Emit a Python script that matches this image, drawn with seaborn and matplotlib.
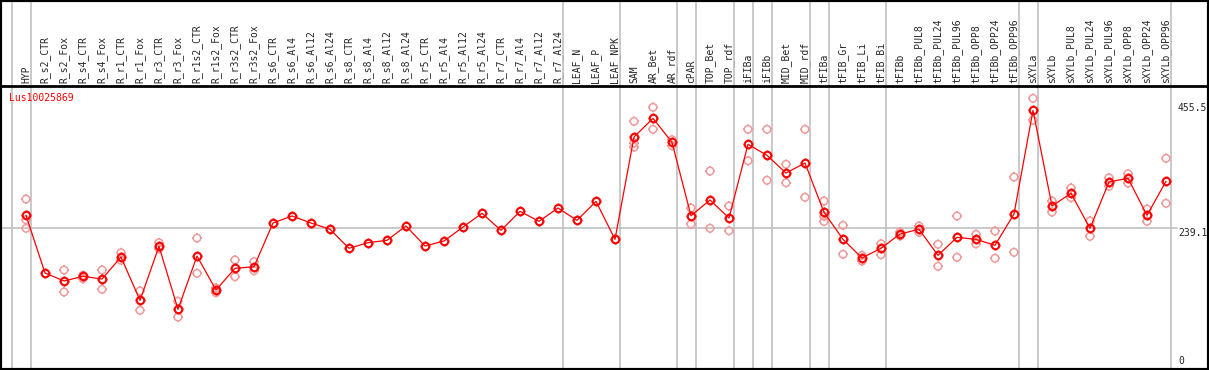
import numpy as np
import pandas as pd
import seaborn as sns
import matplotlib.pyplot as plt
from matplotlib.path import Path

# ---- data ----
labels = ["HYP", "R_s2_CTR", "R_s2_Fox", "R_s4_CTR", "R_s4_Fox", "R_r1_CTR", "R_r1_Fox",
          "R_r3_CTR", "R_r3_Fox", "R_r1s2_CTR", "R_r1s2_Fox", "R_r3s2_CTR", "R_r3s2_Fox",
          "R_s6_CTR", "R_s6_Al4", "R_s6_Al12", "R_s6_Al24", "R_s8_CTR", "R_s8_Al4",
          "R_s8_Al12", "R_s8_Al24", "R_r5_CTR", "R_r5_Al4", "R_r5_Al12", "R_r5_Al24",
          "R_r7_CTR", "R_r7_Al4", "R_r7_Al12", "R_r7_Al24", "LEAF_N", "LEAF_P", "LEAF_NPK",
          "SAM", "AR_Bet", "AR_rdf", "cPAR", "TOP_Bet", "TOP_rdf", "iFIBa", "iFIBb",
          "MID_Bet", "MID_rdf", "tFIBa", "tFIB_Gr", "tFIB_Li", "tFIB_Bi", "tFIBb",
          "tFIBb_PUL8", "tFIBb_PUL24", "tFIBb_PUL96", "tFIBb_OPP8", "tFIBb_OPP24",
          "tFIBb_OPP96", "sXYLa", "sXYLb", "sXYLb_PUL8", "sXYLb_PUL24", "sXYLb_PUL96",
          "sXYLb_OPP8", "sXYLb_OPP24", "sXYLb_OPP96"]

means = [261.6, 161.7, 147.9, 156.0, 151.3, 189.4, 114.4, 207.9, 98.9, 191.1, 132.3,
         169.8, 172.6, 248.3, 260.4, 248.3, 237.4, 204.5, 214.2, 218.3, 243.1, 208.4,
         217.1, 241.3, 265.1, 235.6, 268.5, 251.2, 274.2, 252.9, 285.8, 220.0, 397.2,
         429.5, 388.0, 260.9, 288.1, 256.9, 384.5, 365.5, 334.8, 352.1, 266.8, 220.0,
         187.7, 204.5, 229.2, 237.4, 192.3, 223.5, 220.0, 209.7, 263.9, 443.4, 277.7,
         299.7, 239.1, 319.3, 325.7, 261.6, 320.5]

reps = [[289.8, 254.0, 239.1], [], [166.9, 128.8], [157.7, 151.8], [166.9, 133.5],
        [196.9, 183.7], [130.5, 97.1], [214.2, 203.8], [112.7, 85.5], [222.3, 161.2],
        [135.7, 127.6], [184.2, 155.3], [181.3, 165.7],
        [], [], [], [], [], [], [], [], [], [], [], [], [], [], [], [], [], [], [],
        [424.3, 386.8, 379.8], [448.6, 410.5], [392.5, 382.1], [274.2, 246.5],
        [338.3, 239.1], [277.7, 234.9], [410.5, 356.1], [410.5, 322.2], [349.9, 318.0],
        [410.5, 292.8], [286.4, 260.0, 251.0], [244.3, 194.1], [192.3, 182.5],
        [212.4, 193.4], [232.5, 226.0], [243.1, 232.2], [211.4, 173.3], [260.4, 188.9],
        [228.7, 212.4], [234.4, 187.2], [327.9, 197.5], [464.2, 426.1], [286.4, 267.3],
        [308.9, 292.1], [251.7, 225.2], [326.7, 311.8], [333.6, 317.5], [272.5, 251.2],
        [360.3, 282.4]]

group_ends = [-1, 0, 28, 31, 34, 35, 37, 38, 39, 41, 42, 45, 52, 53, 60]
ytick_vals = [455.5, 239.1, 0]
ytick_text = ["455.5", "239.1", "0"]
gene = "Lus10025869"

pos = np.arange(len(labels))
mean_df = pd.DataFrame({"pos": pos, "value": means})
rep_df = pd.DataFrame([(i, v) for i, r in enumerate(reps) for v in r], columns=["pos", "value"])

# circle with four little ticks
ticks = Path([(0, 1), (0, 1.3), (0, -1), (0, -1.3), (1, 0), (1.3, 0), (-1, 0), (-1.3, 0)],
             [Path.MOVETO, Path.LINETO] * 4)
gear = Path.make_compound_path(Path.unit_circle(), ticks)

sns.set_style("white")
plt.rcParams["font.family"] = ["DejaVu Sans Mono"]

fig = plt.figure(figsize=(12.09, 3.70), dpi=100)
ax = fig.add_axes([0, 1 / 370, 1, 283 / 370])

for e in group_ends:
    ax.axvline(e + 0.25, ymin=0, ymax=1.32, color="#c0c0c0", lw=1.2, clip_on=False, zorder=1)
ax.axhline(239.1, xmax=1177 / 1209, color="#c0c0c0", lw=1.2, zorder=1)

sns.scatterplot(data=rep_df, x="pos", y="value", marker=gear, s=49, color="#f09a9a",
                facecolors="none", edgecolor="#f09a9a", linewidth=1.1, ax=ax, zorder=3)
sns.lineplot(data=mean_df, x="pos", y="value", estimator=None, color="red", lw=0.9,
             marker=gear, markersize=7, markerfacecolor="none", markeredgecolor="red",
             markeredgewidth=1.5, ax=ax, zorder=4)

ax.set_xlim(-26 / 19, 1183 / 19)
ax.set_ylim(-4.5, 485.5)
ax.set_xticks(pos)
ax.set_xticklabels(labels, rotation=90, fontsize=7)
ax.xaxis.tick_top()
ax.tick_params(axis="x", length=0, pad=2)
ax.set_yticks([])
ax.set_xlabel("")
ax.set_ylabel("")
for sp in ax.spines.values():
    sp.set_color("black")
    sp.set_linewidth(2)

for v, t in zip(ytick_vals, ytick_text):
    ax.text((1178 - 26) / 19, v, t, ha="left", va="top" if v > 0 else "bottom", fontsize=7)

ax.text(0.0077, 0.975, gene, transform=ax.transAxes, color="red", fontsize=7, va="top")

fig.add_artist(plt.Rectangle((0, 0), 1, 1, transform=fig.transFigure, fill=False,
                             ec="black", lw=3))

fig.savefig("out.png", dpi=100)
